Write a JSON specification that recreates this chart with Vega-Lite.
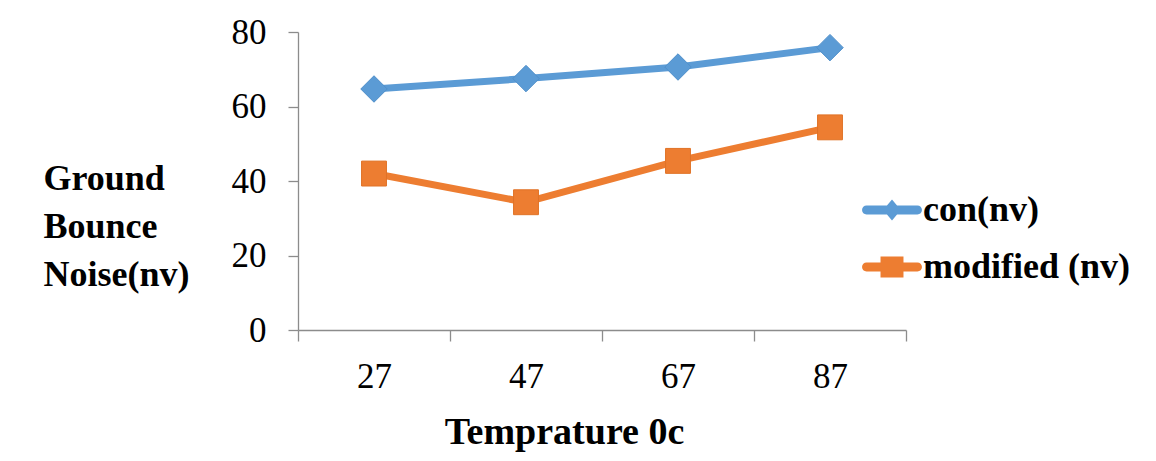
{
  "$schema": "https://vega.github.io/schema/vega-lite/v6.json",
  "width": 608,
  "height": 298,
  "autosize": {"type": "none"},
  "padding": {"left": 298, "top": 32, "right": 250, "bottom": 131},
  "background": "white",
  "config": {
    "view": {"stroke": null},
    "font": "Liberation Serif",
    "axis": {
      "grid": false,
      "domainColor": "#8c8c8c",
      "domainWidth": 1.3,
      "tickColor": "#8c8c8c",
      "tickWidth": 1.3,
      "labelFont": "Liberation Serif",
      "labelColor": "#000000",
      "titleFont": "Liberation Serif",
      "titleColor": "#000000",
      "titleFontWeight": "bold"
    },
    "legend": {
      "title": null,
      "orient": "none",
      "legendX": 566,
      "legendY": 150,
      "padding": 0,
      "rowPadding": 11,
      "labelOffset": 3,
      "labelFont": "Liberation Serif",
      "labelFontSize": 36,
      "labelFontWeight": "bold",
      "labelColor": "#000000",
      "labelLimit": 400,
      "symbolOpacity": 1,
      "symbolStrokeWidth": 0,
      "symbolSize": 3136
    }
  },
  "data": {
    "values": [
      {"temp": "27", "series": "con(nv)", "noise": 64.7},
      {"temp": "47", "series": "con(nv)", "noise": 67.5},
      {"temp": "67", "series": "con(nv)", "noise": 70.6},
      {"temp": "87", "series": "con(nv)", "noise": 75.8},
      {"temp": "27", "series": "modified (nv)", "noise": 42.0},
      {"temp": "47", "series": "modified (nv)", "noise": 34.3},
      {"temp": "67", "series": "modified (nv)", "noise": 45.4},
      {"temp": "87", "series": "modified (nv)", "noise": 54.4}
    ]
  },
  "encoding": {
    "x": {
      "field": "temp",
      "type": "ordinal",
      "sort": ["27", "47", "67", "87"],
      "scale": {"type": "band", "paddingInner": 0, "paddingOuter": 0},
      "axis": {
        "labelAngle": 0,
        "labelFontSize": 35,
        "labelBaseline": "alphabetic",
        "labelPadding": 46,
        "tickSize": 11,
        "tickBand": "extent",
        "title": "Temprature 0c",
        "titleFontSize": 38,
        "titleX": 266,
        "titleY": 113,
        "titleAlign": "center",
        "titleBaseline": "alphabetic"
      }
    },
    "y": {
      "field": "noise",
      "type": "quantitative",
      "scale": {"domain": [0, 80], "nice": false},
      "axis": {
        "values": [0, 20, 40, 60, 80],
        "labelFontSize": 35,
        "labelPadding": 22,
        "tickSize": 10,
        "title": ["Ground", "Bounce", "Noise(nv)"],
        "titleFontSize": 36,
        "titleAngle": 0,
        "titleAlign": "left",
        "titleBaseline": "alphabetic",
        "titleLineHeight": 48,
        "titleX": -255,
        "titleY": 157
      }
    },
    "color": {
      "field": "series",
      "type": "nominal",
      "scale": {"domain": ["con(nv)", "modified (nv)"], "range": ["#5B9BD5", "#ED7D31"]}
    }
  },
  "layer": [
    {
      "mark": {"type": "line", "strokeWidth": 7, "strokeCap": "round", "strokeJoin": "round"}
    },
    {
      "transform": [{"filter": "datum.series === 'con(nv)'"}],
      "mark": {"type": "point", "shape": "diamond", "filled": true, "size": 700, "opacity": 1, "stroke": "#4f8fca", "strokeWidth": 1}
    },
    {
      "transform": [{"filter": "datum.series === 'modified (nv)'"}],
      "mark": {"type": "point", "shape": "square", "filled": true, "size": 620, "opacity": 1, "stroke": "#e07226", "strokeWidth": 1}
    },
    {
      "mark": {"type": "point", "filled": true, "size": 3136, "opacity": 0},
      "encoding": {
        "shape": {
          "field": "series",
          "type": "nominal",
          "scale": {
            "domain": ["con(nv)", "modified (nv)"],
            "range": [
              "M-0.91,-0.16H-0.18L0,-0.375L0.18,-0.16H0.91A0.16,0.16 0 0 1 0.91,0.16H0.18L0,0.375L-0.18,0.16H-0.91A0.16,0.16 0 0 1 -0.91,-0.16Z",
              "M-0.91,-0.16H-0.41V-0.375H0.41V-0.16H0.91A0.16,0.16 0 0 1 0.91,0.16H0.41V0.375H-0.41V0.16H-0.91A0.16,0.16 0 0 1 -0.91,-0.16Z"
            ]
          }
        }
      }
    }
  ]
}
